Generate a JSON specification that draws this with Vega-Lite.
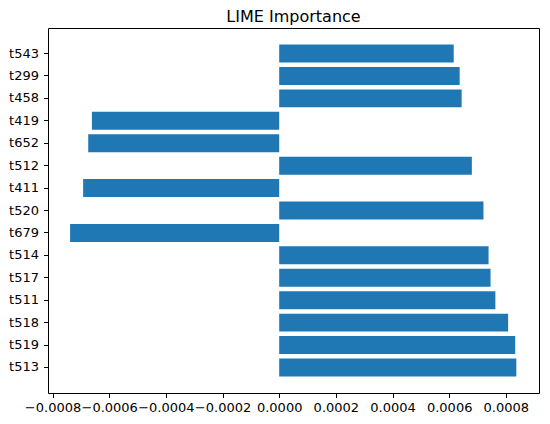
{
  "$schema": "https://vega.github.io/schema/vega-lite/v6.json",
  "width": 491,
  "height": 365,
  "autosize": {"type": "none"},
  "padding": {"left": 48, "top": 28, "right": 11, "bottom": 31},
  "background": "white",
  "title": {
    "text": "LIME Importance",
    "font": "DejaVu Sans",
    "fontSize": 16,
    "fontWeight": "normal",
    "color": "#000",
    "baseline": "bottom",
    "offset": 4,
    "dy": 17
  },
  "data": {
    "values": [
      {"feature": "t543", "weight": 0.000616},
      {"feature": "t299", "weight": 0.000637},
      {"feature": "t458", "weight": 0.000644},
      {"feature": "t419", "weight": -0.000661},
      {"feature": "t652", "weight": -0.000674},
      {"feature": "t512", "weight": 0.00068},
      {"feature": "t411", "weight": -0.000692},
      {"feature": "t520", "weight": 0.000721},
      {"feature": "t679", "weight": -0.000738},
      {"feature": "t514", "weight": 0.000739},
      {"feature": "t517", "weight": 0.000746},
      {"feature": "t511", "weight": 0.000763},
      {"feature": "t518", "weight": 0.000808},
      {"feature": "t519", "weight": 0.000833},
      {"feature": "t513", "weight": 0.000837}
    ]
  },
  "mark": {"type": "bar", "color": "#1f77b4"},
  "encoding": {
    "y": {
      "field": "feature",
      "type": "nominal",
      "sort": ["t543", "t299", "t458", "t419", "t652", "t512", "t411", "t520", "t679", "t514", "t517", "t511", "t518", "t519", "t513"],
      "scale": {"paddingInner": 0.2, "paddingOuter": 0.74},
      "axis": {"title": null, "labelPadding": 5}
    },
    "x": {
      "field": "weight",
      "type": "quantitative",
      "scale": {"domain": [-0.000816, 0.000917], "nice": false},
      "axis": {
        "title": null,
        "values": [-0.0008, -0.0006, -0.0004, -0.0002, 0, 0.0002, 0.0004, 0.0006, 0.0008],
        "format": ".4f",
        "labelPadding": 4,
        "labelFlush": false,
        "labelOverlap": false
      }
    },
    "x2": {"datum": 0}
  },
  "config": {
    "view": {"stroke": "#000", "strokeWidth": 1},
    "axis": {
      "domain": false,
      "grid": false,
      "ticks": true,
      "tickSize": 4.5,
      "tickColor": "#000",
      "labelFont": "DejaVu Sans",
      "labelFontSize": 13,
      "labelColor": "#000"
    }
  }
}
